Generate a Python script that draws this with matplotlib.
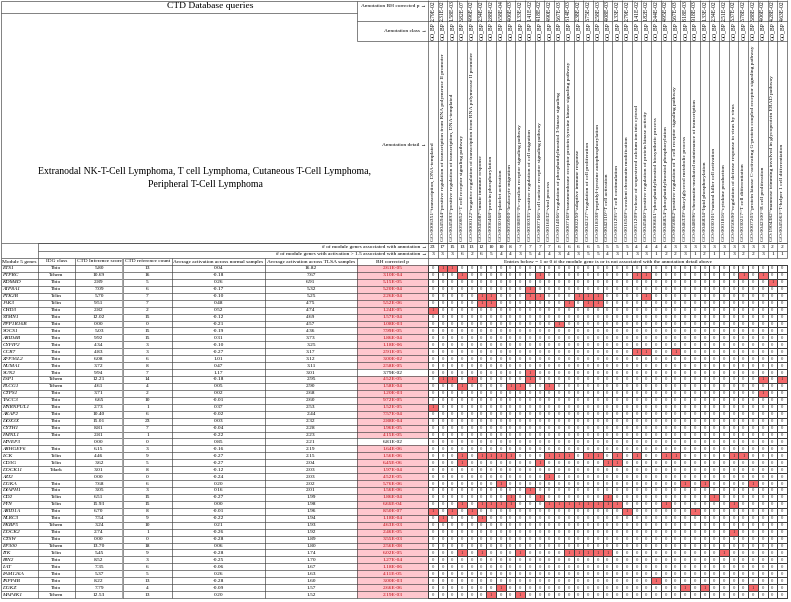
import numpy as np
import matplotlib.pyplot as plt
from matplotlib.colors import ListedColormap

plt.rcParams['font.family'] = ['Liberation Serif', 'DejaVu Serif']

# module genes (rows of the table)
genes = ['ETS1', 'PTPRC', 'KDM4D', 'ATP8A1', 'PTK2B', 'JAK3', 'CHD3', 'STMN1', 'PPP1R16B',
         'SOCS1', 'ARID4B', 'CYFIP2', 'CCR7', 'ZFP36L2', 'NUMA1', 'SUN2', 'LSP1', 'PLCG1',
         'CTPS1', 'TACC3', 'HNRNPUL1', 'AKAP2', 'DDX3X', 'CYTH1', 'FMNL1', 'HIVEP3', 'ARHGEF6',
         'LCK', 'CD3G', 'DOCK11', 'AZI2', 'DGKA', 'DIAPH1', 'CD2', 'FYN', 'ARID1A', 'NLRC3',
         'FKBP5', 'DOCK2', 'CTSW', 'EP300', 'ITK', 'BIN2', 'LAT', 'FAM126A', 'INPP4B', 'DGKZ',
         'MAP4K1']
idg_class = ['Tbio', 'Tchem', 'Tbio', 'Tbio', 'Tclin', 'Tclin', 'Tbio', 'Tbio', 'Tbio',
             'Tbio', 'Tbio', 'Tbio', 'Tbio', 'Tbio', 'Tbio', 'Tbio', 'Tchem', 'Tchem',
             'Tbio', 'Tbio', 'Tbio', 'Tbio', 'Tbio', 'Tbio', 'Tbio', '', 'Tbio',
             'Tclin', 'Tclin', 'Tdark', '', 'Tbio', 'Tbio', 'Tclin', 'Tclin', 'Tbio', 'Tbio',
             'Tchem', 'Tbio', 'Tbio', 'Tchem', 'Tclin', 'Tbio', 'Tbio', 'Tbio', 'Tbio', 'Tbio',
             'Tchem']
ctd_score = [5.80, 10.69, 2.89, 7.09, 5.70, 9.51, 2.82, 12.02, 0.00, 5.03, 9.92, 4.34, 4.83,
             6.08, 3.72, 9.94, 12.21, 4.61, 3.71, 6.65, 2.73, 10.40, 15.01, 8.81, 2.81, 0.00,
             6.15, 4.46, 3.62, 3.01, 0.00, 7.68, 3.05, 6.51, 15.93, 6.70, 7.54, 3.24, 2.74,
             0.00, 13.70, 5.45, 8.52, 7.35, 5.37, 8.22, 7.79, 12.53]
ctd_refs = [13, 16, 5, 6, 7, 7, 2, 15, 0, 15, 15, 3, 3, 6, 8, 7, 14, 4, 2, 10, 1, 6, 23, 7,
            1, 0, 3, 9, 5, 8, 0, 6, 3, 15, 15, 8, 9, 10, 1, 0, 18, 9, 3, 6, 5, 13, 4, 13]
act_normal = [0.04, -0.18, 0.26, -0.17, -0.10, 0.48, 0.52, -0.12, -0.21, -0.19, 0.31, -0.10,
              -0.27, 1.01, 0.47, 1.17, -0.18, 0.05, 0.02, -0.01, 0.37, -0.02, 0.03, -0.04,
              -0.22, 0.85, -0.16, -0.27, -0.27, -0.12, -0.24, 0.20, 0.16, -0.27, 0.00, -0.01,
              -0.22, 0.21, -0.26, -0.28, 0.06, -0.28, -0.25, -0.06, 0.26, -0.28, -0.09, 0.20]
act_tlsa = [16.82, 7.67, 6.91, 5.32, 5.25, 4.75, 4.74, 4.69, 4.57, 4.36, 3.73, 3.25, 3.17,
            3.12, 3.11, 3.01, 2.95, 2.90, 2.68, 2.60, 2.53, 2.44, 2.32, 2.28, 2.23, 2.21,
            2.19, 2.15, 2.04, 2.03, 2.03, 2.02, 2.01, 1.99, 1.98, 1.96, 1.94, 1.93, 1.92,
            1.89, 1.80, 1.74, 1.70, 1.67, 1.63, 1.60, 1.57, 1.52]
gene_bh_p = ['2.61E-05', '3.10E-04', '5.15E-05', '5.20E-04', '2.26E-04', '5.52E-06', '1.24E-05',
             '1.57E-04', '1.08E-03', '7.99E-05', '1.86E-04', '1.18E-06', '2.91E-05', '3.00E-02',
             '2.58E-05', '3.79E-02', '4.52E-05', '1.58E-04', '1.20E-03', '9.72E-05', '1.52E-05',
             '7.57E-04', '2.88E-04', '1.96E-05', '4.15E-05', '6.81E-02', '1.64E-06', '1.56E-06',
             '6.45E-06', '1.97E-04', '4.52E-05', '5.76E-06', '1.56E-06', '1.86E-04', '6.66E-04',
             '8.50E-07', '1.18E-04', '4.63E-03', '2.46E-05', '3.55E-03', '2.56E-08', '6.02E-05',
             '1.27E-04', '1.18E-06', '4.11E-05', '3.00E-03', '2.66E-06', '2.19E-03']

# annotations (columns of the matrix)
go_terms = ['GO:0006351~transcription, DNA-templated',
            'GO:0045944~positive regulation of transcription from RNA polymerase II promoter',
            'GO:0045893~positive regulation of transcription, DNA-templated',
            'GO:0050852~T cell receptor signaling pathway',
            'GO:0000122~negative regulation of transcription from RNA polymerase II promoter',
            'GO:0045087~innate immune response',
            'GO:0006468~protein phosphorylation',
            'GO:0030168~platelet activation',
            'GO:0050900~leukocyte migration',
            'GO:0038095~Fc-epsilon receptor signaling pathway',
            'GO:0030335~positive regulation of cell migration',
            'GO:0007166~cell surface receptor signaling pathway',
            'GO:0016032~viral process',
            'GO:0014066~regulation of phosphatidylinositol 3-kinase signaling',
            'GO:0007169~transmembrane receptor protein tyrosine kinase signaling pathway',
            'GO:0002250~adaptive immune response',
            'GO:0042127~regulation of cell proliferation',
            'GO:0018108~peptidyl-tyrosine autophosphorylation',
            'GO:0042110~T cell activation',
            'GO:0031295~T cell costimulation',
            'GO:0016569~covalent chromatin modification',
            'GO:0051209~release of sequestered calcium ion into cytosol',
            'GO:0045860~positive regulation of protein kinase activity',
            'GO:0006661~phosphatidylinositol biosynthetic process',
            'GO:0046854~phosphatidylinositol phosphorylation',
            'GO:0050862~positive regulation of T cell receptor signaling pathway',
            'GO:0046339~diacylglycerol metabolic process',
            'GO:0048096~chromatin-mediated maintenance of transcription',
            'GO:0046834~lipid phosphorylation',
            'GO:0030101~natural killer cell activation',
            'GO:0001816~cytokine production',
            'GO:0050690~regulation of defense response to virus by virus',
            'GO:0030217~T cell differentiation',
            'GO:0007205~protein kinase C-activating G-protein coupled receptor signaling pathway',
            'GO:0042100~B cell proliferation',
            'GO:1904382~mannose trimming involved in glycoprotein ERAD pathway',
            'GO:0045063~T-helper 1 cell differentiation']
go_bh_p = ['2.79E-02', '2.31E-02', '1.58E-03', '3.82E-07', '4.96E-02', '2.34E-02', '2.88E-02',
           '6.58E-04', '4.06E-03', '1.33E-02', '1.41E-02', '4.18E-02', '4.90E-02', '3.67E-03',
           '6.14E-03', '2.38E-02', '3.75E-02', '2.58E-03', '4.08E-03', '1.33E-02', '2.79E-02',
           '1.41E-02', '1.82E-02', '2.44E-02', '4.95E-02', '3.67E-03', '8.18E-03', '9.18E-03',
           '1.33E-02', '2.34E-02', '2.51E-02', '3.37E-02', '3.78E-02', '3.88E-02', '4.06E-02',
           '4.28E-02', '4.63E-02']
n_assoc = [23, 17, 15, 13, 13, 12, 10, 10, 8, 7, 7, 7, 7, 6, 6, 6, 6, 5, 5, 5, 5, 4, 4, 4, 4,
           3, 3, 3, 3, 3, 3, 3, 3, 3, 3, 2, 2]
n_active = [3, 3, 3, 6, 2, 6, 5, 4, 4, 3, 5, 4, 4, 3, 4, 3, 5, 5, 4, 3, 1, 3, 3, 1, 2, 2, 3,
            1, 2, 1, 1, 3, 2, 2, 3, 1, 1]

# annotation columns each gene is associated with (cells = 1)
gene_hits = [[1, 2], [3, 11, 21, 22, 32, 34], [35], [10], [5, 6, 10, 11, 15, 16, 17, 22],
             [5, 6, 14, 16, 17], [0], [], [13], [], [], [], [21, 22, 25], [], [], [10],
             [1, 2, 4, 10, 34, 36], [3, 8, 9, 12], [34], [], [0], [], [], [], [], [], [],
             [3, 5, 6, 7, 8, 12, 13, 14, 16, 17, 19, 21, 24, 25, 31, 32], [3, 11, 18, 19], [],
             [12], [7, 26, 28, 33], [10], [8, 11, 18, 29],
             [3, 5, 6, 7, 8, 12, 13, 14, 15, 16, 17, 18, 19, 24, 31], [0, 2, 4, 20, 27], [1, 5],
             [], [31], [], [], [3, 5, 9, 14, 15, 16, 17, 18, 30], [], [], [], [23],
             [7, 26, 28, 33], [6, 9]]

table_headers = ['Module 5 genes', 'IDG class', 'CTD Inference score', 'CTD reference count',
                 'Average activation across normal samples', 'Average activation across TLSA samples',
                 'BH corrected p']

W, H = 791, 602
fig = plt.figure(figsize=(7.91, 6.02), dpi=100)
ax = fig.add_axes([0, 0, 1, 1])
ax.set_xlim(0, W)
ax.set_ylim(H, 0)
ax.axis('off')

LC = '#3c3c3c'
FS = 3.9
col_edges = [1, 38, 75, 123, 172, 265, 357, 428]
mx = np.linspace(428, 787, len(go_terms) + 1)
ry = np.linspace(265, 598, len(genes) + 1)
mcx = (mx[:-1] + mx[1:]) / 2
rcy = (ry[:-1] + ry[1:]) / 2

# association matrix
M = np.zeros((len(genes), len(go_terms)))
for i, hits in enumerate(gene_hits):
    M[i, hits] = 1
ax.pcolormesh(mx, ry, M, cmap=ListedColormap(['white', '#f4696b']),
              edgecolors=LC, linewidth=0.45)
for i in range(len(genes)):
    for k in range(len(go_terms)):
        ax.text(mcx[k], rcy[i], str(int(M[i, k])), ha='center', va='center',
                fontsize=3.4, color='#333333')

# BH p column shading
pvals = np.array([float(p) for p in gene_bh_p])
bh_fill = np.where(pvals <= 0.03, '#ffc7ce', 'white')
ax.barh(rcy, col_edges[7] - col_edges[6], height=ry[1] - ry[0], left=col_edges[6],
        color=bh_fill, edgecolor='none')

# gene table text
for i in range(len(genes)):
    y = rcy[i]
    ax.text(col_edges[0] + 1.5, y, genes[i], ha='left', va='center', fontsize=FS, style='italic')
    ax.text((col_edges[1] + col_edges[2]) / 2, y, idg_class[i], ha='center', va='center', fontsize=FS)
    ax.text((col_edges[2] + col_edges[3]) / 2, y, f'{ctd_score[i]:.2f}', ha='center', va='center', fontsize=FS)
    ax.text((col_edges[3] + col_edges[4]) / 2, y, f'{ctd_refs[i]}', ha='center', va='center', fontsize=FS)
    ax.text((col_edges[4] + col_edges[5]) / 2, y, f'{act_normal[i]:.2f}', ha='center', va='center', fontsize=FS)
    ax.text((col_edges[5] + col_edges[6]) / 2, y, f'{act_tlsa[i]:.2f}', ha='center', va='center', fontsize=FS)
    ax.text((col_edges[6] + col_edges[7]) / 2, y, gene_bh_p[i], ha='center', va='center', fontsize=FS,
            color='#c0000a' if pvals[i] <= 0.03 else 'black')

# table header row
hy = (258 + 265) / 2
for j, t in enumerate(table_headers):
    if j == 0:
        ax.text(col_edges[0] + 1.5, hy, t, ha='left', va='center', fontsize=FS)
    else:
        ax.text((col_edges[j] + col_edges[j + 1]) / 2, hy, t, ha='center', va='center', fontsize=FS)
ax.text((mx[0] + mx[-1]) / 2, hy,
        'Entries below = 1 or 0 if the module gene is or is not associated with the annotation detail above',
        ha='center', va='center', fontsize=FS)

# table grid
ax.hlines(ry, col_edges[0], col_edges[-1], color=LC, linewidth=0.45)
ax.hlines([258], col_edges[0], mx[-1], color=LC, linewidth=0.45)
ax.vlines(col_edges, 258, ry[-1], color=LC, linewidth=0.45)
ax.vlines([col_edges[3]], 258, ry[-1], color='#999999', linewidth=1.2)

# count rows
ax.hlines([243, 250.5], col_edges[1], mx[-1], color=LC, linewidth=0.45)
ax.vlines([col_edges[0]], 243, 258, color=LC, linewidth=0.45)
ax.vlines([col_edges[1]], 243, 258, color=LC, linewidth=0.45)
ax.text(col_edges[-1] - 1.5, 246.8, '# of module genes associated with annotation \u2192',
        ha='right', va='center', fontsize=FS)
ax.text(col_edges[-1] - 1.5, 254.2, '# of module genes with activation > 1.5 associated with annotation \u2192',
        ha='right', va='center', fontsize=FS)
for k in range(len(go_terms)):
    ax.text(mcx[k], 246.8, str(n_assoc[k]), ha='center', va='center', fontsize=FS)
    ax.text(mcx[k], 254.2, str(n_active[k]), ha='center', va='center', fontsize=FS)

# annotation header (rotated)
ax.vlines(mx, 0, 258, color=LC, linewidth=0.45)
ax.hlines([0.5, 21, 41, 243], col_edges[-1], mx[-1], color=LC, linewidth=0.45)
for k in range(len(go_terms)):
    ax.text(mcx[k], 10.5, go_bh_p[k], rotation=90, ha='center', va='center', fontsize=4.1)
    ax.text(mcx[k], 31, 'GO_BP', rotation=90, ha='center', va='center', fontsize=4.1)
    ax.text(mcx[k], 241, go_terms[k], rotation=90, ha='center', va='bottom', fontsize=3.95)

# left header block
ax.hlines([0.5, 243], col_edges[0], col_edges[-1], color=LC, linewidth=0.45)
ax.hlines([12.5], col_edges[0], col_edges[6], color=LC, linewidth=0.45)
ax.hlines([21, 41], col_edges[6], col_edges[-1], color=LC, linewidth=0.45)
ax.vlines([col_edges[0]], 0.5, 243, color=LC, linewidth=0.45)
ax.vlines([col_edges[6]], 0.5, 41, color=LC, linewidth=0.45)
ax.text(210, 6.5, 'CTD Database queries', ha='center', va='center', fontsize=6.8)
ax.text(col_edges[-1] - 1.5, 6.5, 'Annotation BH corrected p \u2192', ha='right', va='center', fontsize=FS)
ax.text(col_edges[-1] - 1.5, 31, 'Annotation class \u2192', ha='right', va='center', fontsize=FS)
ax.text(col_edges[-1] - 1.5, 145, 'Annotation detail \u2192', ha='right', va='center', fontsize=FS)
ax.text(205, 178, 'Extranodal NK-T-Cell Lymphoma, T cell Lymphoma, Cutaneous T-Cell Lymphoma,\n'
        'Peripheral T-Cell Lymphoma', ha='center', va='center', fontsize=7, linespacing=1.5)

fig.savefig('out.png', dpi=100, facecolor='white')
